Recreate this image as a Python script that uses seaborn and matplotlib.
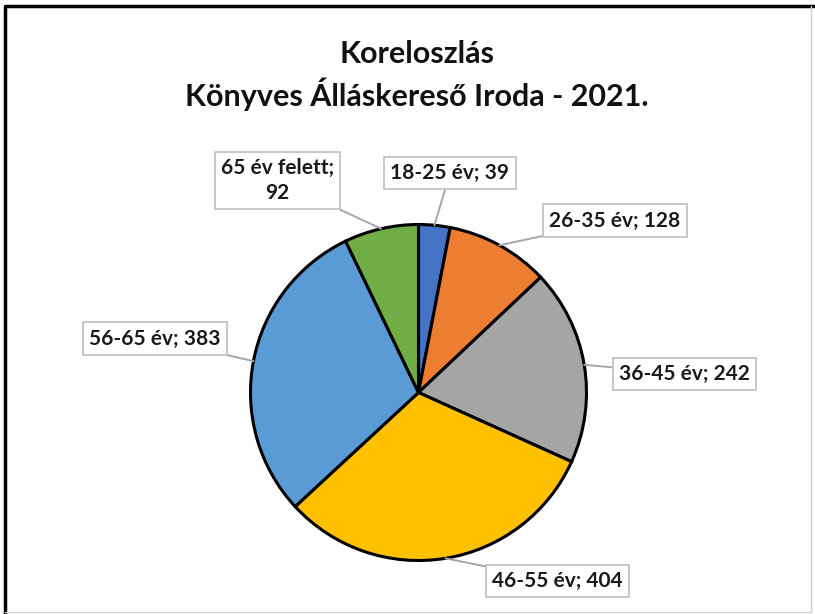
import matplotlib.pyplot as plt
import seaborn as sns
import numpy as np

# data
age_groups = ["18-25 év", "26-35 év", "36-45 év", "46-55 év", "56-65 év", "65 év felett"]
counts = [39, 128, 242, 404, 383, 92]
slice_colors = ["#4472C4", "#ED7D31", "#A5A5A5", "#FFC000", "#5B9BD5", "#70AD47"]
title_lines = ["Koreloszlás", "Könyves Álláskereső Iroda - 2021."]

# label box centres in pixels (from top-left), same order as age_groups
label_pos = [(450, 173), (615, 220.5), (684.5, 374), (557.5, 581), (154.5, 338.5), (277.5, 180.5)]
label_sep = ["; ", "; ", "; ", "; ", "; ", ";\n"]

sns.set_theme(style="white")
plt.rcParams['font.family'] = ['Lato', 'DejaVu Sans']

W, H = 815, 614
fig = plt.figure(figsize=(W / 100, H / 100), dpi=100)
ax = fig.add_axes([0, 0, 1, 1])

# pie centre / radius in pixel units (y axis points up)
cx, cy, r = 418.5, H - 392.5, 168
wedges, _ = ax.pie(counts, colors=sns.color_palette(slice_colors), startangle=90,
                   counterclock=False, center=(cx, cy), radius=r, frame=True,
                   wedgeprops=dict(edgecolor="black", linewidth=2.2))
ax.set_xlim(0, W)
ax.set_ylim(0, H)
ax.set_aspect("equal")
ax.axis("off")

# data labels with leader lines
for w, name, n, sep, (lx, ly) in zip(wedges, age_groups, counts, label_sep, label_pos):
    mid = np.deg2rad((w.theta1 + w.theta2) / 2)
    px, py = cx + r * np.cos(mid), cy + r * np.sin(mid)
    ax.annotate(f"{name}{sep}{n}", xy=(px, py), xytext=(lx, H - ly),
                ha="center", va="center", fontsize=15, fontweight="bold",
                color="#1a1a1a", linespacing=1.3,
                bbox=dict(boxstyle="square,pad=0.3", fc="white", ec="#BFBFBF", lw=1.2),
                arrowprops=dict(arrowstyle="-", color="#A6A6A6", lw=1.4,
                                shrinkA=0, shrinkB=0))

# title
fig.text(417 / W, 1 - 63 / H, title_lines[0], ha="center", va="baseline",
         fontsize=22, fontweight="bold", color="#111111")
fig.text(417 / W, 1 - 106 / H, title_lines[1], ha="center", va="baseline",
         fontsize=22, fontweight="bold", color="#111111")

# chart frame: dark on the left/top, light on the right/bottom
ax.plot([5, 5, W], [0, H - 6, H - 6], color="black", lw=2.5, clip_on=False)
ax.plot([811, 811, 5], [H - 6, 2, 2], color="#D0D0D0", lw=1, clip_on=False)

fig.savefig("out.png", dpi=100)
